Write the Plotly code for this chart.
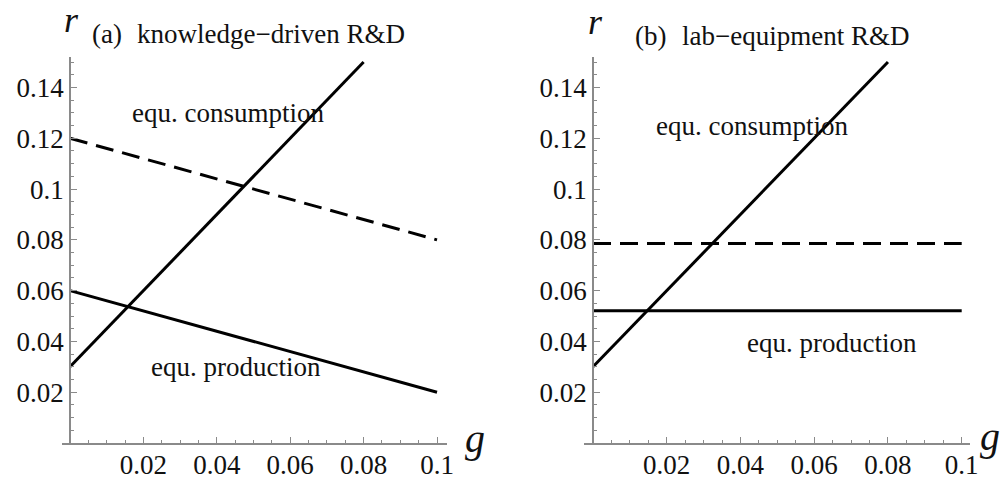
import plotly.graph_objects as go

# ---- data ----
# panel (a) knowledge-driven R&D
g_rise_a = [0.0, 0.08]
r_rise_a = [0.03, 0.15]
g_cons_a = [0.0, 0.1]
r_cons_a = [0.12, 0.08]
g_prod_a = [0.0, 0.1]
r_prod_a = [0.06, 0.02]
# panel (b) lab-equipment R&D
g_rise_b = [0.0, 0.08]
r_rise_b = [0.03, 0.15]
g_cons_b = [0.0, 0.1]
r_cons_b = [0.0786, 0.0786]
g_prod_b = [0.0, 0.1]
r_prod_b = [0.0521, 0.0521]

x_tickvals = [0.02, 0.04, 0.06, 0.08, 0.1]
x_ticktext = ["0.02", "0.04", "0.06", "0.08", "0.1"]
y_tickvals = [0.02, 0.04, 0.06, 0.08, 0.1, 0.12, 0.14]
y_ticktext = ["0.02", "0.04", "0.06", "0.08", "0.1", "0.12", "0.14"]

W, H = 1005, 481
FONT = "Liberation Serif, Times New Roman, serif"
AX = "#8a8a8a"

fig = go.Figure()
line_solid = dict(color="black", width=3)
line_dash = dict(color="black", width=3, dash="18px,9px")

fig.add_trace(go.Scatter(x=g_rise_a, y=r_rise_a, mode="lines", line=line_solid, xaxis="x", yaxis="y"))
fig.add_trace(go.Scatter(x=g_cons_a, y=r_cons_a, mode="lines", line=line_dash, xaxis="x", yaxis="y"))
fig.add_trace(go.Scatter(x=g_prod_a, y=r_prod_a, mode="lines", line=line_solid, xaxis="x", yaxis="y"))
fig.add_trace(go.Scatter(x=g_rise_b, y=r_rise_b, mode="lines", line=line_solid, xaxis="x2", yaxis="y2"))
fig.add_trace(go.Scatter(x=g_cons_b, y=r_cons_b, mode="lines", line=line_dash, xaxis="x2", yaxis="y2"))
fig.add_trace(go.Scatter(x=g_prod_b, y=r_prod_b, mode="lines", line=line_solid, xaxis="x2", yaxis="y2"))

tickfont = dict(family=FONT, size=27, color="#111")

def xax(domain, rng, anchor):
    return dict(domain=domain, range=rng, anchor=anchor, showline=True, linecolor=AX, linewidth=1.5,
                ticks="inside", ticklen=6, tickwidth=1, tickcolor=AX,
                tickvals=x_tickvals, ticktext=x_ticktext, tickfont=tickfont, ticklabelstandoff=-3,
                showgrid=False, zeroline=False, fixedrange=True, automargin=False,
                minor=dict(ticks="inside", ticklen=3, tickwidth=1, tickcolor=AX, dtick=0.005, tick0=0, showgrid=False))

def yax(pos):
    return dict(domain=[38 / H, 424 / H], range=[0, 0.152], anchor="free", position=pos,
                showline=True, linecolor=AX, linewidth=1.5,
                ticks="inside", ticklen=6, tickwidth=1, tickcolor=AX,
                tickvals=y_tickvals, ticktext=y_ticktext, tickfont=tickfont,
                showgrid=False, zeroline=False, fixedrange=True, automargin=False,
                minor=dict(ticks="inside", ticklen=3, tickwidth=1, tickcolor=AX, dtick=0.005, tick0=0, showgrid=False))

fig.update_layout(
    template="none",
    width=W, height=H,
    margin=dict(l=0, r=0, t=0, b=0, autoexpand=False),
    paper_bgcolor="white", plot_bgcolor="white",
    showlegend=False,
    xaxis=xax([62 / W, 447 / W], [-0.00218, 0.10272], "y"),
    yaxis=yax(70 / W),
    xaxis2=xax([584 / W, 970 / W], [-0.00244, 0.10225], "y2"),
    yaxis2=yax(593 / W),
)

txt = dict(family=FONT, size=27, color="#111")
ann = []
def pa(text, px, py, size=27, italic=False, xanchor="left"):
    f = dict(family=FONT, size=size, color="#111")
    t = f"<i>{text}</i>" if italic else text
    ann.append(dict(text=t, x=px / W, y=1 - py / H, xref="paper", yref="paper",
                    xanchor=xanchor, yanchor="middle", showarrow=False, font=f))

pa("r", 71, 20, size=36, italic=True, xanchor="center")
pa("(a)", 90, 34)
pa("knowledge−driven R&D", 135, 34)
pa("g", 475, 438, size=40, italic=True, xanchor="center")
pa("r", 595, 22, size=36, italic=True, xanchor="center")
pa("(b)", 633, 36)
pa("lab−equipment R&D", 680, 36)
pa("g", 990, 436, size=40, italic=True, xanchor="center")

def da(text, x, y, xr, yr):
    ann.append(dict(text=text, x=x, y=y, xref=xr, yref=yr, xanchor="center", yanchor="middle",
                    showarrow=False, font=txt))

da("equ. consumption", 0.0431, 0.130, "x", "y")
da("equ. production", 0.0452, 0.030, "x", "y")
da("equ. consumption", 0.0431, 0.125, "x2", "y2")
da("equ. production", 0.0648, 0.0394, "x2", "y2")

fig.update_layout(annotations=ann)
fig.write_html("out.html", config={"displayModeBar": False},
               post_script="document.body.style.margin='0';document.body.style.overflow='hidden';")
